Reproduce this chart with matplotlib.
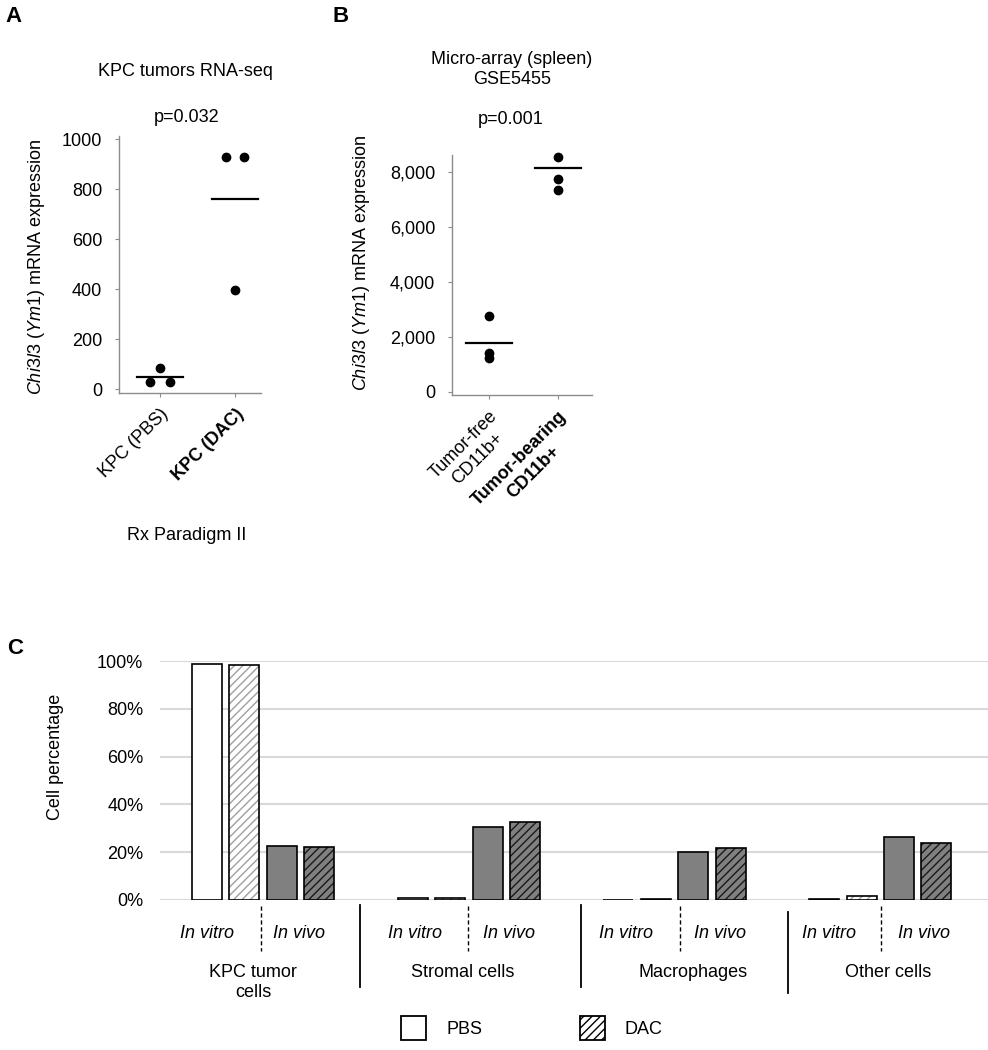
import matplotlib
matplotlib.use('Agg')
import matplotlib.pyplot as plt
from matplotlib.patches import Patch

plt.rcParams['font.family'] = ['Liberation Sans', 'DejaVu Sans']
plt.rcParams['font.size'] = 13
plt.rcParams['mathtext.fontset'] = 'custom'
plt.rcParams['mathtext.rm'] = 'Liberation Sans'
plt.rcParams['mathtext.it'] = 'Liberation Sans:italic'
plt.rcParams['mathtext.bf'] = 'Liberation Sans:bold'
plt.rcParams['hatch.linewidth'] = 1.0

# ---- data ----
# Panel A: KPC tumors RNA-seq
a_groups = ['KPC (PBS)', 'KPC (DAC)']
a_pbs = [87, 30, 30]
a_dac = [931, 931, 397]
a_means = [49, 763]
a_pvalue = 'p=0.032'

# Panel B: micro-array (spleen), GSE5455
b_groups = ['Tumor-free\nCD11b+', 'Tumor-bearing\nCD11b+']
b_free = [2770, 1420, 1240]
b_bearing = [8540, 7740, 7340]
b_means = [1790, 8140]
b_pvalue = 'p=0.001'

# Panel C: cell percentages
cell_types = ['KPC tumor\ncells', 'Stromal cells', 'Macrophages', 'Other cells']
pbs_vitro = [98.7, 1.0, 0.0, 0.5]
dac_vitro = [98.2, 1.0, 0.5, 1.5]
pbs_vivo = [22.6, 30.6, 20.1, 26.4]
dac_vivo = [22.1, 32.6, 21.7, 23.9]
c_yticks = [0, 20, 40, 60, 80, 100]

W, H = 988, 1050
fig = plt.figure(figsize=(W / 100, H / 100), dpi=100)


def px_axes(left, top, right, bottom):
    return fig.add_axes([left / W, 1 - bottom / H, (right - left) / W, (bottom - top) / H])


def style_scatter_ax(ax):
    for s in ['top', 'right']:
        ax.spines[s].set_visible(False)
    for s in ['left', 'bottom']:
        ax.spines[s].set_color('#8c8c8c')
        ax.spines[s].set_linewidth(1.0)
    ax.tick_params(axis='both', colors='#8c8c8c', length=3, width=0.8, labelcolor='black')
    ax.tick_params(axis='y', pad=9)
    ax.tick_params(axis='x', pad=6)


ylab = '$\\it{Chi3l3}$ ($\\it{Ym1}$) mRNA expression'

# ---- Panel A ----
axA = px_axes(119, 135.5, 261, 393)
jitA = [[0, -0.13, 0.13], [-0.12, 0.12, 0]]
for i, vals in enumerate([a_pbs, a_dac]):
    axA.plot([i + j for j in jitA[i]], vals, 'o', color='black', ms=6, zorder=3, clip_on=False)
    axA.plot([i - 0.31, i + 0.31], [a_means[i]] * 2, color='black', lw=1.6)
axA.set_xlim(-0.547, 1.347)
axA.set_ylim(-15, 1015)
axA.set_yticks([0, 200, 400, 600, 800, 1000])
axA.set_xticks([0, 1])
axA.set_xticklabels(a_groups, rotation=45, ha='right', va='top', rotation_mode='anchor')
axA.get_xticklabels()[1].set_fontweight('bold')
style_scatter_ax(axA)
axA.set_ylabel(ylab)
axA.yaxis.set_label_coords(-0.507, 0.49)
fig.text(185 / W, 1 - 72 / H, 'KPC tumors RNA-seq', ha='center', va='center')
fig.text(187 / W, 1 - 118 / H, a_pvalue, ha='center', va='center')
fig.text(187 / W, 1 - 536 / H, 'Rx Paradigm II', ha='center', va='center')
fig.text(5 / W, 1 - 17 / H, 'A', fontsize=16, fontweight='bold', ha='left', va='center')

# ---- Panel B ----
axB = px_axes(452, 155, 592, 395)
for i, vals in enumerate([b_free, b_bearing]):
    axB.plot([i] * len(vals), vals, 'o', color='black', ms=6, zorder=3, clip_on=False)
    axB.plot([i - 0.34, i + 0.34], [b_means[i]] * 2, color='black', lw=1.6)
axB.set_xlim(-0.536, 1.493)
axB.set_ylim(-110, 8620)
axB.set_yticks([0, 2000, 4000, 6000, 8000])
axB.set_yticklabels(['0', '2,000', '4,000', '6,000', '8,000'])
axB.set_xticks([0, 1])
axB.set_xticklabels(b_groups, rotation=45, ha='right', va='top', rotation_mode='anchor',
                    multialignment='center')
axB.get_xticklabels()[1].set_fontweight('bold')
style_scatter_ax(axB)
axB.set_ylabel(ylab)
axB.yaxis.set_label_coords(-0.571, 0.55)
fig.text(512 / W, 1 - 60 / H, 'Micro-array (spleen)', ha='center', va='center')
fig.text(512 / W, 1 - 80 / H, 'GSE5455', ha='center', va='center')
fig.text(511 / W, 1 - 119 / H, b_pvalue, ha='center', va='center')
fig.text(333 / W, 1 - 17 / H, 'B', fontsize=16, fontweight='bold', ha='left', va='center')

# ---- Panel C ----
axC = px_axes(160, 661, 988, 900)
group_step = 5.5
bw = 0.8
edge_lw = 1.2
for g in range(len(cell_types)):
    base = g * group_step
    # in vitro PBS: white
    axC.bar(base, pbs_vitro[g], bw, color='white', edgecolor='black', lw=edge_lw, zorder=2)
    # in vitro DAC: white with light hatch
    axC.bar(base + 1, dac_vitro[g], bw, color='white', edgecolor='#a0a0a0', hatch='////',
            lw=0, zorder=2)
    axC.bar(base + 1, dac_vitro[g], bw, fill=False, edgecolor='black', lw=edge_lw, zorder=3)
    # in vivo PBS: gray
    axC.bar(base + 2, pbs_vivo[g], bw, color='#808080', edgecolor='black', lw=edge_lw, zorder=2)
    # in vivo DAC: gray with dark hatch
    axC.bar(base + 3, dac_vivo[g], bw, color='#808080', edgecolor='#1a1a1a', hatch='////',
            lw=0, zorder=2)
    axC.bar(base + 3, dac_vivo[g], bw, fill=False, edgecolor='black', lw=edge_lw, zorder=3)

axC.set_xlim(-1.257, 20.88)
axC.set_ylim(0, 100)
axC.set_yticks(c_yticks)
axC.set_yticklabels([f'{t}%' for t in c_yticks])
axC.yaxis.grid(True, color='#d9d9d9', lw=1.5)
axC.set_axisbelow(True)
for s in axC.spines.values():
    s.set_visible(False)
axC.tick_params(axis='y', length=0, pad=12)
axC.tick_params(axis='x', length=0, labelbottom=False)
axC.set_ylabel('Cell percentage')
axC.yaxis.set_label_coords(-0.116, 0.598)


def yax(py):
    # figure pixel row -> axes fraction for panel C
    return (900 - py) / 239.0


trans = axC.get_xaxis_transform()
vitro_off = [0.0, 0.06, 0.2, 0.13]
vivo_off = [2.46, 2.57, 2.71, 2.67]
group_off = [1.23, 1.34, 2.0, 1.72]
dash_off = [1.44, 1.48, 1.65, 1.52]
for g, name in enumerate(cell_types):
    base = g * group_step
    axC.text(base + vitro_off[g], yax(933), 'In vitro', style='italic', ha='center', va='center',
             transform=trans)
    axC.text(base + vivo_off[g], yax(933), 'In vivo', style='italic', ha='center', va='center',
             transform=trans)
    axC.text(base + group_off[g], yax(964), name, ha='center', va='top', transform=trans,
             linespacing=1.2)
    axC.plot([base + dash_off[g]] * 2, [yax(906), yax(951)], color='black', lw=1.0,
             ls=(0, (3, 2)), transform=trans, clip_on=False)

sep_x = [4.09, 10.0, 15.53]
sep_top = [905, 905, 912]
sep_bot = [987, 987, 993]
for x, t, b in zip(sep_x, sep_top, sep_bot):
    axC.plot([x, x], [yax(t), yax(b)], color='black', lw=1.3, transform=trans, clip_on=False)

fig.text(7 / W, 1 - 648 / H, 'C', fontsize=16, fontweight='bold', ha='left', va='center')

handles = [Patch(facecolor='white', edgecolor='black', lw=1.3, label='PBS'),
           Patch(facecolor='white', edgecolor='black', lw=1.3, hatch='////', label='DAC')]
fig.legend(handles=handles, loc='center', bbox_to_anchor=(532 / W, 1 - 1028 / H), ncol=2,
           frameon=False, handlelength=1.39, handleheight=1.67, handletextpad=1.1,
           columnspacing=5.4, borderpad=0, fontsize=13)

fig.savefig('out.png', dpi=100)
